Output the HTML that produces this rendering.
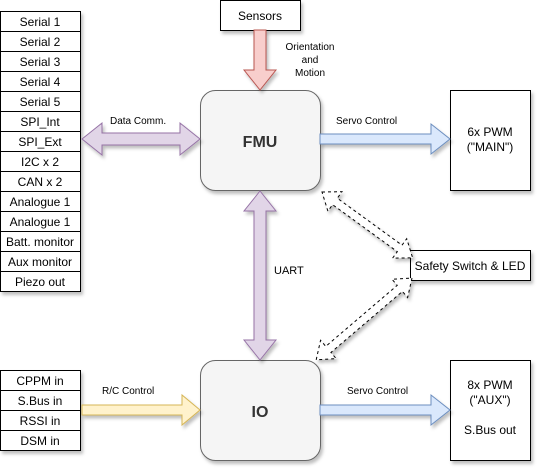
<!DOCTYPE html>
<html><head><meta charset="utf-8"><style>
html,body{margin:0;padding:0;background:#fff;}
svg{display:block;font-family:"Liberation Sans",Arial,sans-serif;}
</style></head><body>
<svg width="542" height="473" viewBox="0 0 542 473" xmlns="http://www.w3.org/2000/svg">
<defs>
<filter id="sh" x="-10%" y="-10%" width="130%" height="130%"><feDropShadow dx="2" dy="3" stdDeviation="1.5" flood-color="#000" flood-opacity="0.25"/></filter>
</defs>
<!-- left list -->
<g font-size="12" text-anchor="middle" filter="url(#sh)">
<g fill="#fff" stroke="#000" stroke-width="1">
<rect x="0.5" y="11.5" width="80" height="20"/><rect x="0.5" y="31.5" width="80" height="20"/><rect x="0.5" y="51.5" width="80" height="20"/><rect x="0.5" y="71.5" width="80" height="20"/><rect x="0.5" y="91.5" width="80" height="20"/><rect x="0.5" y="111.5" width="80" height="20"/><rect x="0.5" y="131.5" width="80" height="20"/><rect x="0.5" y="151.5" width="80" height="20"/><rect x="0.5" y="171.5" width="80" height="20"/><rect x="0.5" y="191.5" width="80" height="20"/><rect x="0.5" y="211.5" width="80" height="20"/><rect x="0.5" y="231.5" width="80" height="20"/><rect x="0.5" y="251.5" width="80" height="20"/><rect x="0.5" y="271.5" width="80" height="20"/>
<rect x="0.5" y="370.5" width="80" height="20"/><rect x="0.5" y="390.5" width="80" height="20"/><rect x="0.5" y="410.5" width="80" height="20"/><rect x="0.5" y="430.5" width="80" height="20"/>
</g>
</g>
<g font-size="12" text-anchor="middle" fill="#000">
<text x="40" y="26">Serial 1</text><text x="40" y="46">Serial 2</text><text x="40" y="66">Serial 3</text><text x="40" y="86">Serial 4</text><text x="40" y="106">Serial 5</text><text x="40" y="126">SPI_Int</text><text x="40" y="146">SPI_Ext</text><text x="40" y="166">I2C x 2</text><text x="40" y="186">CAN x 2</text><text x="40" y="206">Analogue 1</text><text x="40" y="226">Analogue 1</text><text x="40" y="246">Batt. monitor</text><text x="40" y="266">Aux monitor</text><text x="40" y="286">Piezo out</text>
<text x="40" y="385">CPPM in</text><text x="40" y="405">S.Bus in</text><text x="40" y="425">RSSI in</text><text x="40" y="445">DSM in</text>
</g>
<!-- boxes -->
<g filter="url(#sh)" stroke="#000" stroke-width="1">
<rect x="220.5" y="0.5" width="80" height="30" fill="#fff"/>
<rect x="450.5" y="90.5" width="80" height="100" fill="#fff"/>
<rect x="450.5" y="360.5" width="80" height="100" fill="#fff"/>
<rect x="410.5" y="250.5" width="120" height="30" fill="#fff"/>
<rect x="200.5" y="90.5" width="120" height="100" rx="15" fill="#f5f5f5" stroke="#666"/>
<rect x="200.5" y="360.5" width="120" height="100" rx="15" fill="#f5f5f5" stroke="#666"/>
</g>
<!-- arrows -->
<g filter="url(#sh)">
<polygon points="254,30 266,30 266,70 276,70 260,90 244,70 254,70" fill="#f8cecc" stroke="#b85450"/>
<polygon points="82,139 102,123 102,133 180,133 180,123 200,139 180,155 180,145 102,145 102,155" fill="#e1d5e7" stroke="#9673a6"/>
<polygon points="260,191 276,211 266,211 266,340 276,340 260,360 244,340 254,340 254,211 244,211" fill="#e1d5e7" stroke="#9673a6"/>
<polygon points="320,134 431,134 431,124 450,139 431,154 431,144 320,144" fill="#dae8fc" stroke="#6c8ebf"/>
<polygon points="320,405 431,405 431,395 450,410 431,425 431,415 320,415" fill="#dae8fc" stroke="#6c8ebf"/>
<polygon points="82,405 182,405 182,395 200,410 182,425 182,415 82,415" fill="#fff2cc" stroke="#d6b656"/>
<g fill="#fff" stroke="#000" stroke-dasharray="3,3">
<polygon transform="translate(322,192) rotate(36)" points="0,0 16,-12 16,-4 96,-4 96,-12 112,0 96,12 96,4 16,4 16,12"/>
<polygon transform="translate(412,278) rotate(139.5)" points="0,0 16,-12 16,-4 110,-4 110,-12 126,0 110,12 110,4 16,4 16,12"/>
</g>
</g>
<!-- labels -->
<g font-size="10" fill="#000">
<rect x="108" y="113" width="64" height="14" fill="#fff"/><text x="110" y="124">Data Comm.</text>
<rect x="334" y="113" width="70" height="14" fill="#fff"/><text x="336" y="124">Servo Control</text>
<rect x="345" y="383" width="70" height="14" fill="#fff"/><text x="347" y="394">Servo Control</text>
<rect x="100" y="383" width="58" height="14" fill="#fff"/><text x="102" y="394">R/C Control</text>
<rect x="272" y="262" width="36" height="15" fill="#fff"/><text x="274" y="274" font-size="11">UART</text>
<rect x="280" y="38" width="62" height="42" fill="#fff"/>
<text x="310" y="50" text-anchor="middle">Orientation</text><text x="310" y="63" text-anchor="middle">and</text><text x="310" y="76" text-anchor="middle">Motion</text>
</g>
<g font-size="12" text-anchor="middle" fill="#000">
<text x="260" y="20">Sensors</text>
<text x="490" y="136">6x PWM</text><text x="490" y="151">("MAIN")</text>
<text x="490" y="389">8x PWM</text><text x="490" y="404">("AUX")</text><text x="490" y="434">S.Bus out</text>
<text x="470" y="270">Safety Switch &amp; LED</text>
<text x="260" y="147" font-size="16" font-weight="bold" fill="#333">FMU</text>
<text x="260" y="417" font-size="16" font-weight="bold" fill="#333">IO</text>
</g>
</svg>
</body></html>
